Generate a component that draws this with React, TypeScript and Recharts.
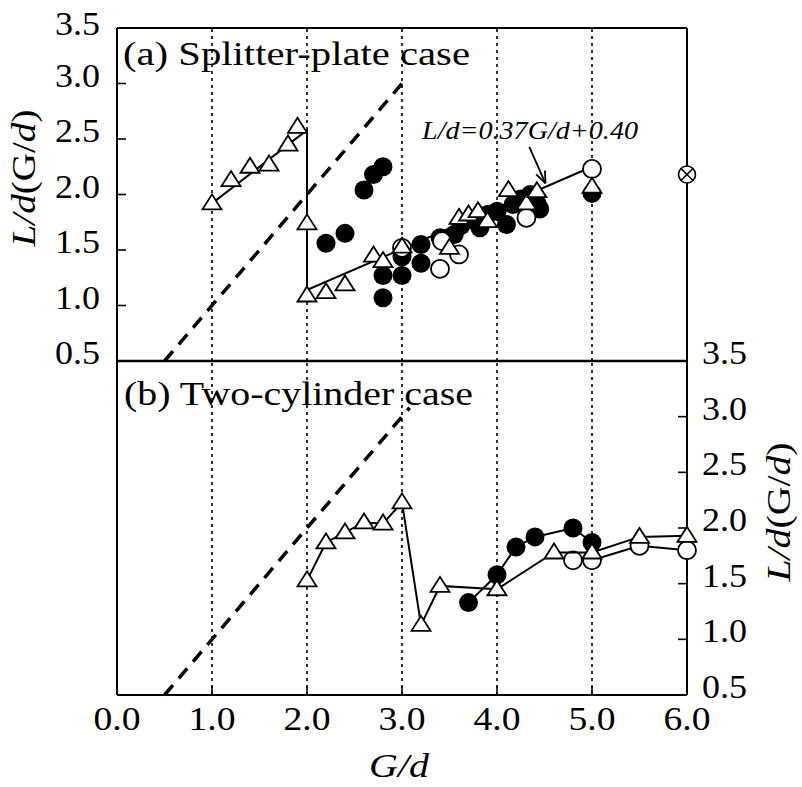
import React from "react";
import { ComposedChart, Scatter, XAxis, YAxis, ReferenceLine } from "recharts";

const xTicks = [0, 1, 2, 3, 4, 5, 6];
const yTicks = [0.5, 1.0, 1.5, 2.0, 2.5, 3.0, 3.5];
const gridX = [1, 2, 3, 4, 5];

// (a) splitter-plate case
const aTriangles = [
  { x: 1.0, y: 1.92 }, { x: 1.2, y: 2.13 }, { x: 1.4, y: 2.25 }, { x: 1.6, y: 2.27 },
  { x: 1.8, y: 2.45 }, { x: 1.9, y: 2.61 }, { x: 2.0, y: 1.09 }, { x: 2.0, y: 1.74 },
  { x: 2.2, y: 1.12 }, { x: 2.4, y: 1.19 }, { x: 2.7, y: 1.45 }, { x: 2.8, y: 1.4 },
  { x: 3.0, y: 1.53 }, { x: 3.5, y: 1.52 }, { x: 3.6, y: 1.79 }, { x: 3.7, y: 1.82 },
  { x: 3.8, y: 1.85 }, { x: 3.9, y: 1.76 }, { x: 4.12, y: 2.04 }, { x: 4.31, y: 1.92 },
  { x: 4.42, y: 2.03 }, { x: 5.0, y: 2.07 },
];
const aFilled = [
  { x: 2.2, y: 1.56 }, { x: 2.4, y: 1.65 }, { x: 2.6, y: 2.04 }, { x: 2.7, y: 2.18 },
  { x: 2.8, y: 2.25 }, { x: 2.8, y: 1.07 }, { x: 2.8, y: 1.27 }, { x: 3.0, y: 1.27 },
  { x: 3.0, y: 1.44 }, { x: 3.2, y: 1.55 }, { x: 3.2, y: 1.38 }, { x: 3.4, y: 1.61 },
  { x: 3.55, y: 1.64 }, { x: 3.62, y: 1.72 }, { x: 3.75, y: 1.77 }, { x: 3.82, y: 1.7 },
  { x: 3.9, y: 1.82 }, { x: 4.0, y: 1.85 }, { x: 4.1, y: 1.73 }, { x: 4.17, y: 1.91 },
  { x: 4.25, y: 1.96 }, { x: 4.35, y: 2.0 }, { x: 4.42, y: 1.92 }, { x: 4.45, y: 1.87 },
  { x: 5.0, y: 2.01 },
];
const aOpen = [
  { x: 3.0, y: 1.52 }, { x: 3.4, y: 1.33 }, { x: 3.42, y: 1.58 }, { x: 3.6, y: 1.46 },
  { x: 4.31, y: 1.79 }, { x: 5.0, y: 2.23 },
];
const aCrossed = [{ x: 6.0, y: 2.18 }];
const aFitLine = [
  { x: 1.0, y: 1.92 }, { x: 2.0, y: 2.58 }, { x: 2.0, y: 1.14 }, { x: 5.0, y: 2.25 },
];
const aDiagonal = [{ x: 0.5, y: 0.5 }, { x: 3.0, y: 3.0 }];
const arrowTail = { x: 4.34, y: 2.43 };
const arrowHead = { x: 4.51, y: 2.1 };

// (b) two-cylinder case
const bTriangles = [
  { x: 2.0, y: 1.53 }, { x: 2.2, y: 1.87 }, { x: 2.4, y: 1.96 }, { x: 2.6, y: 2.05 },
  { x: 2.8, y: 2.04 }, { x: 3.0, y: 2.23 }, { x: 3.2, y: 1.13 }, { x: 3.4, y: 1.48 },
  { x: 4.0, y: 1.45 }, { x: 4.6, y: 1.78 }, { x: 5.0, y: 1.78 }, { x: 5.5, y: 1.92 },
  { x: 6.0, y: 1.93 },
];
const bFilled = [
  { x: 3.7, y: 1.33 }, { x: 4.0, y: 1.58 }, { x: 4.2, y: 1.83 }, { x: 4.4, y: 1.92 },
  { x: 4.8, y: 2.0 }, { x: 5.0, y: 1.87 },
];
const bOpen = [
  { x: 4.8, y: 1.71 }, { x: 5.0, y: 1.71 }, { x: 5.5, y: 1.84 }, { x: 6.0, y: 1.8 },
];
const bDiagonal = [{ x: 0.5, y: 0.5 }, { x: 3.08, y: 3.08 }];

const serif = "Liberation Serif, Times New Roman, Times, serif";
const ink = "#000";

const Tri = (p: any) => (
  <path
    d={`M${p.cx},${p.cy - 9} L${p.cx + 9.5},${p.cy + 6} L${p.cx - 9.5},${p.cy + 6} Z`}
    fill="#fff"
    stroke={ink}
    strokeWidth={1.8}
  />
);
const Dot = (p: any) => <circle cx={p.cx} cy={p.cy} r={9.5} fill={ink} />;
const Ring = (p: any) => (
  <circle cx={p.cx} cy={p.cy} r={9} fill="#fff" stroke={ink} strokeWidth={1.8} />
);
const Crossed = (p: any) => (
  <g stroke={ink} strokeWidth={1.6} fill="#fff">
    <circle cx={p.cx} cy={p.cy} r={8.5} />
    <line x1={p.cx - 6} y1={p.cy - 6} x2={p.cx + 6} y2={p.cy + 6} />
    <line x1={p.cx - 6} y1={p.cy + 6} x2={p.cx + 6} y2={p.cy - 6} />
  </g>
);
const NoMark = () => <g />;

const Arrow = (p: any) => {
  const { x1, y1, x2, y2 } = p;
  const a = Math.atan2(y2 - y1, x2 - x1);
  const l = 13;
  const w = 0.38;
  return (
    <g>
      <line x1={x1} y1={y1} x2={x2} y2={y2} stroke={ink} strokeWidth={1.8} />
      <path
        d={`M${x2},${y2} L${x2 - l * Math.cos(a - w)},${y2 - l * Math.sin(a - w)} M${x2},${y2} L${x2 - l * Math.cos(a + w)},${y2 - l * Math.sin(a + w)}`}
        stroke={ink}
        strokeWidth={1.8}
        fill="none"
      />
    </g>
  );
};

const fmt = (v: number) => v.toFixed(1);

const LeftTick = (p: any) => {
  const v = p.payload.value;
  return (
    <text x={p.x} y={p.y + (v === 3.5 ? 7 : 3)} textAnchor="end" fontFamily={serif}
      fontSize={33} fill={ink} textLength={45} lengthAdjust="spacingAndGlyphs">
      {fmt(v)}
    </text>
  );
};
const RightTick = (p: any) => (
  <text x={p.x} y={p.y + 3} textAnchor="start" fontFamily={serif}
    fontSize={33} fill={ink} textLength={45} lengthAdjust="spacingAndGlyphs">
    {fmt(p.payload.value)}
  </text>
);
const BottomTick = (p: any) => (
  <text x={p.x} y={p.y} textAnchor="middle" fontFamily={serif}
    fontSize={33} fill={ink} textLength={47} lengthAdjust="spacingAndGlyphs">
    {fmt(p.payload.value)}
  </text>
);

const axisLine = { stroke: ink, strokeWidth: 2 };
const tickLine = { stroke: ink, strokeWidth: 1.6 };
const dotted = { stroke: ink, strokeWidth: 1.6, strokeDasharray: "3 4" };
const solidLine = { stroke: ink, strokeWidth: 2 };
const dashedLine = { stroke: ink, strokeWidth: 3.5, strokeDasharray: "13 9" };

export default function App() {
  return (
    <div style={{ position: "absolute", left: 0, top: 0, width: 802, height: 787, background: "#fff" }}>
      <div style={{ position: "absolute", left: 0, top: 0 }}>
        <ComposedChart width={802} height={385} margin={{ top: 28, right: 114, bottom: 24, left: 37 }}>
          <XAxis type="number" dataKey="x" domain={[0, 6]} ticks={xTicks} hide />
          <YAxis yAxisId="l" type="number" dataKey="y" domain={[0.5, 3.5]} ticks={yTicks} interval={0}
            width={80} axisLine={axisLine} tickLine={tickLine} tickSize={-9} tickMargin={26}
            tick={LeftTick} />
          <YAxis yAxisId="r" orientation="right" type="number" dataKey="y" domain={[0.5, 3.5]}
            ticks={yTicks} interval={0} width={1} axisLine={axisLine} tickLine={tickLine}
            tickSize={-9} tick={false} allowDataOverflow />
          {gridX.map((g) => (
            <ReferenceLine key={g} yAxisId="l" x={g} {...dotted} />
          ))}
          <ReferenceLine yAxisId="l" y={3.5} stroke={ink} strokeWidth={2} />
          <ReferenceLine yAxisId="l" y={0.5} stroke={ink} strokeWidth={2.5} />
          <Scatter yAxisId="l" data={aDiagonal} line={dashedLine} lineType="joint" shape={NoMark} isAnimationActive={false} />
          <Scatter yAxisId="l" data={aFitLine} line={solidLine} lineType="joint" shape={NoMark} isAnimationActive={false} />
          <ReferenceLine yAxisId="l" segment={[arrowTail, arrowHead]} shape={Arrow} />
          <Scatter yAxisId="l" data={aFilled} shape={Dot} isAnimationActive={false} />
          <Scatter yAxisId="l" data={aOpen} shape={Ring} isAnimationActive={false} />
          <Scatter yAxisId="l" data={aTriangles} shape={Tri} isAnimationActive={false} />
          <Scatter yAxisId="l" data={aCrossed} shape={Crossed} isAnimationActive={false} />
        </ComposedChart>
      </div>
      <div style={{ position: "absolute", left: 0, top: 300 }}>
        <ComposedChart width={802} height={487} margin={{ top: 61, right: 35, bottom: 0, left: 37 }}>
          <XAxis type="number" dataKey="x" domain={[0, 6]} ticks={xTicks} interval={0} height={92}
            axisLine={axisLine} tickLine={tickLine} tickSize={-9} tickMargin={44}
            tick={BottomTick} />
          <YAxis yAxisId="l" type="number" dataKey="y" domain={[0.5, 3.5]} ticks={yTicks} interval={0}
            width={80} axisLine={axisLine} tickLine={tickLine} tickSize={-9} tick={false} />
          <YAxis yAxisId="r" orientation="right" type="number" dataKey="y" domain={[0.5, 3.5]}
            ticks={yTicks} interval={0} width={80} axisLine={axisLine} tickLine={tickLine}
            tickSize={-9} tickMargin={24} tick={RightTick} allowDataOverflow />
          {gridX.map((g) => (
            <ReferenceLine key={g} yAxisId="l" x={g} {...dotted} />
          ))}
          <Scatter yAxisId="l" data={bDiagonal} line={dashedLine} lineType="joint" shape={NoMark} isAnimationActive={false} />
          <Scatter yAxisId="l" data={bFilled} line={solidLine} lineType="joint" shape={Dot} isAnimationActive={false} />
          <Scatter yAxisId="l" data={bOpen} line={solidLine} lineType="joint" shape={Ring} isAnimationActive={false} />
          <Scatter yAxisId="l" data={bTriangles} line={solidLine} lineType="joint" shape={Tri} isAnimationActive={false} />
        </ComposedChart>
      </div>
      <svg width={802} height={787} style={{ position: "absolute", left: 0, top: 0, pointerEvents: "none" }}>
        <g fontFamily={serif} fill={ink}>
          <text x={123} y={65} fontSize={34} textLength={347} lengthAdjust="spacingAndGlyphs">
            (a) Splitter-plate case
          </text>
          <text x={124} y={405} fontSize={34} textLength={349} lengthAdjust="spacingAndGlyphs">
            (b) Two-cylinder case
          </text>
          <text x={422} y={139} fontSize={26} fontStyle="italic" textLength={216} lengthAdjust="spacingAndGlyphs">
            L/d=0.37G/d+0.40
          </text>
          <text transform="translate(24,178) rotate(-90)" textAnchor="middle" dominantBaseline="central"
            fontSize={33} textLength={137} lengthAdjust="spacingAndGlyphs">
            <tspan fontStyle="italic">L/d</tspan>(G/<tspan fontStyle="italic">d</tspan>)
          </text>
          <text transform="translate(779,512) rotate(-90)" textAnchor="middle" dominantBaseline="central"
            fontSize={33} textLength={139} lengthAdjust="spacingAndGlyphs">
            <tspan fontStyle="italic">L/d</tspan>(G/<tspan fontStyle="italic">d</tspan>)
          </text>
          <text x={399} y={777} textAnchor="middle" fontSize={33} fontStyle="italic"
            textLength={60} lengthAdjust="spacingAndGlyphs">
            G/d
          </text>
        </g>
      </svg>
    </div>
  );
}
